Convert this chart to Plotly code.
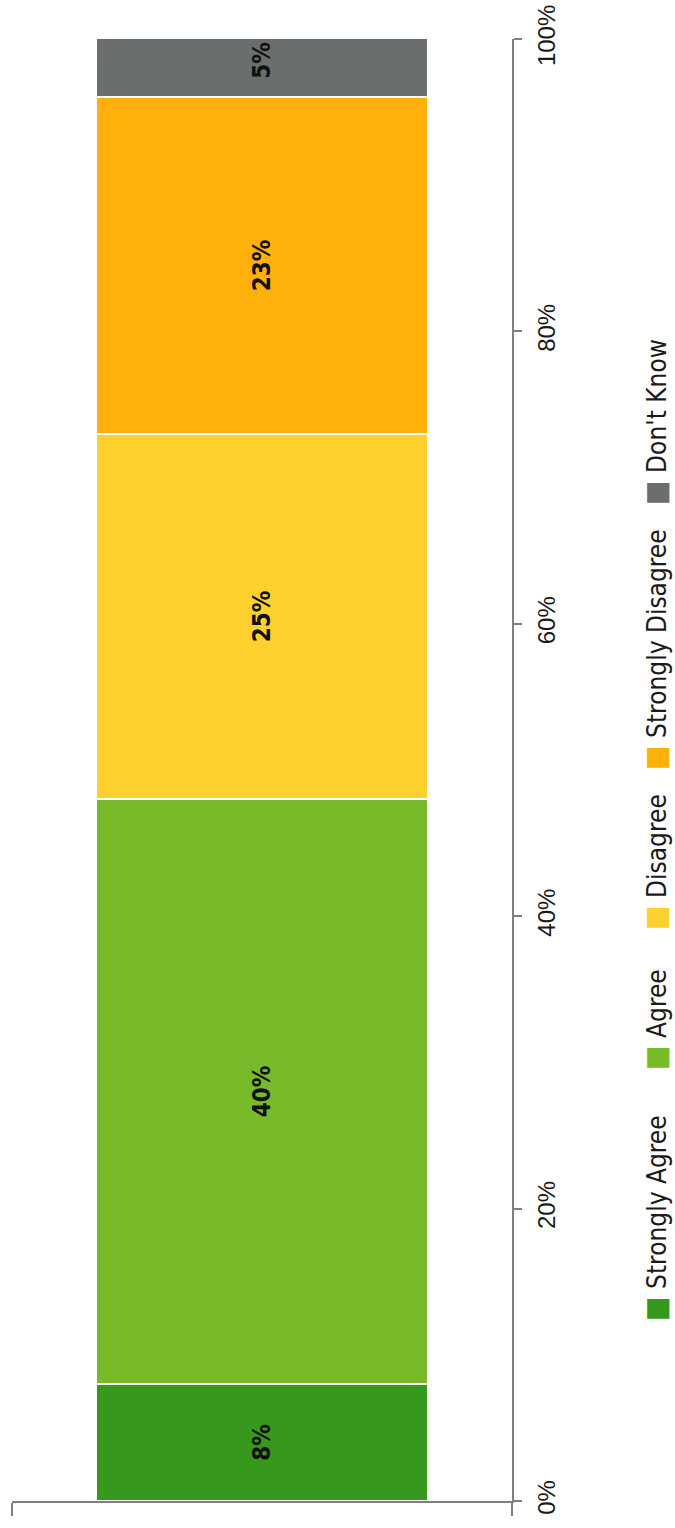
import plotly.graph_objects as go

# ---- data ----
categories = [""]
series_names = ["Strongly Agree", "Agree", "Disagree", "Strongly Disagree", "Don't Know"]
series_values = [8, 40, 25, 23, 5]
series_colors = ["#36981c", "#78bb2a", "#ffd12f", "#ffb00c", "#6a6e6d"]
tick_values = [0, 20, 40, 60, 80, 100]
tick_labels = ["0%", "20%", "40%", "60%", "80%", "100%"]

# ---- layout constants (pixels) ----
W, H = 675, 1528
PL, PR, PT, PB = 12, 512, 39, 1501
legend_centers_px = [1218, 1020, 862, 650, 422]
legend_x_px = 656

NARROW = "Liberation Sans Narrow, DejaVu Sans Condensed, Liberation Sans"

fig = go.Figure()
for name, val, col in zip(series_names, series_values, series_colors):
    fig.add_trace(go.Bar(
        x=categories, y=[val], name=name,
        marker=dict(color=col, line=dict(color="white", width=2)),
        width=0.664,
        text=[f"{val}%"],
        textposition="inside",
        insidetextanchor="middle",
        textangle=-90,
        textfont=dict(family=NARROW, size=24, color="#111111", weight="bold"),
        hoverinfo="name+y",
        showlegend=False,
    ))

annotations = []
pw = PR - PL
ph = PB - PT
for name, col, cy in zip(series_names, series_colors, legend_centers_px):
    annotations.append(dict(
        xref="paper", yref="paper",
        x=(legend_x_px - PL) / pw, y=(PB - cy) / ph,
        xanchor="center", yanchor="middle",
        text=f'<span style="color:{col};font-size:29px">■</span> {name}',
        textangle=-90, showarrow=False,
        font=dict(family=NARROW, size=26, color="#1a1a1a"),
    ))

fig.update_layout(
    width=W, height=H,
    margin=dict(l=PL, r=W - PR, t=PT, b=H - PB, pad=0, autoexpand=False),
    barmode="stack",
    bargap=0,
    plot_bgcolor="white", paper_bgcolor="white",
    annotations=annotations,
    xaxis=dict(
        range=[-0.5, 0.5], showline=True, linecolor="#808080", linewidth=1.5,
        ticks="outside", tickson="boundaries", ticklen=13, tickcolor="#808080", tickwidth=1.5,
        showticklabels=False, showgrid=False, zeroline=False, automargin=False,
    ),
    yaxis=dict(
        side="right", range=[0, 100], tickvals=tick_values, ticktext=tick_labels,
        tickangle=-90, showline=True, linecolor="#808080", linewidth=1.5,
        ticks="outside", ticklen=8, tickcolor="#808080", tickwidth=1.5,
        ticklabelstandoff=4, ticklabeloverflow="allow",
        showgrid=False, zeroline=False, automargin=False,
        tickfont=dict(family="Liberation Sans, Arial", size=24, color="#1a1a1a"),
    ),
)

fig.write_html(
    "out.html",
    config={"displayModeBar": False},
    post_script="document.body.style.margin='0';document.body.style.overflow='hidden';",
)
